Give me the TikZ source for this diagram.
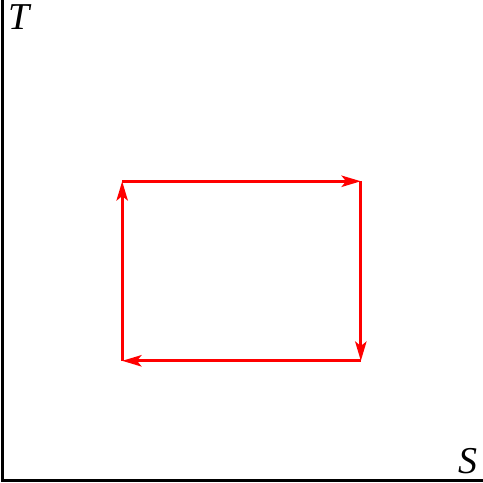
\documentclass[tikz,border=0pt]{standalone}
\usepackage{amsmath}
\usepackage{fontspec}
\setmainfont{Liberation Serif}
\usepackage{tikz}
\usetikzlibrary{arrows.meta}

\begin{document}
\begin{tikzpicture}
\useasboundingbox (0,0) rectangle (8.5,8.5);
\coordinate (O) at (0.04,0.04);
\coordinate (Tend) at (0.04,8.5);
\coordinate (Send) at (8.5,0.04);
\draw[line width=1.3pt] (Tend) -- (O) -- (Send);
\node[font=\fontsize{19}{23}\selectfont\itshape] (T) at (0.33,8.2) {T};
\node[font=\fontsize{19}{23}\selectfont\itshape] (S) at (8.24,0.39) {S};

\coordinate (a) at (2.15,2.15);
\coordinate (b) at (2.15,5.31);
\coordinate (c) at (6.35,5.31);
\coordinate (d) at (6.35,2.15);
\draw[red,line width=1.4pt,-{Stealth[length=0.34cm,width=0.2cm,inset=0.08cm]}] (a) -- (b);
\draw[red,line width=1.4pt,-{Stealth[length=0.34cm,width=0.2cm,inset=0.08cm]}] (b) -- (c);
\draw[red,line width=1.4pt,-{Stealth[length=0.34cm,width=0.2cm,inset=0.08cm]}] (c) -- (d);
\draw[red,line width=1.4pt,-{Stealth[length=0.34cm,width=0.2cm,inset=0.08cm]}] (d) -- (a);
\end{tikzpicture}
\end{document}
